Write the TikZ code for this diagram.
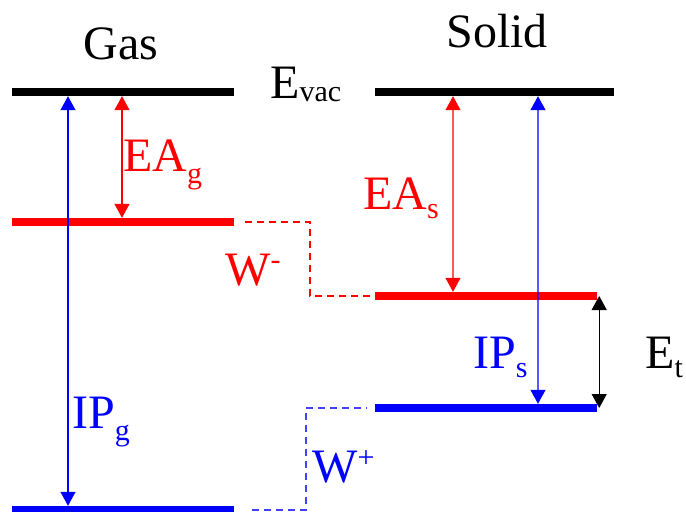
\documentclass[tikz,border=0pt]{standalone}
\usepackage{fontspec}
\setmainfont{Liberation Serif}
\usetikzlibrary{arrows.meta}
\definecolor{lvred}{HTML}{FF0000}
\definecolor{lvblue}{HTML}{0000FF}
\newcommand\lvsub[2][9bp]{\raisebox{-#1}{\fontsize{30bp}{30bp}\selectfont #2}}
\newcommand\lvsup[1]{\raisebox{15bp}{\fontsize{30bp}{30bp}\selectfont #1}}

\begin{document}
\begin{tikzpicture}[
  x=1bp, y=-1bp,
  level/.style={rectangle, inner sep=0pt, minimum height=8bp, minimum width=#1},
  gaparrow/.style={{Triangle[length=14bp,width=15bp]}-{Triangle[length=14bp,width=15bp]}, line width=1.2bp},
  wlink/.style={line width=1.5bp, dash pattern=on 7bp off 5bp},
  lbl/.style={inner sep=0pt, font=\fontsize{48bp}{50bp}\selectfont},
]
\useasboundingbox (0,0) rectangle (686,512);

% Levels (gas left, solid right)
\node[level=222bp, fill=black]  (gvac)  at (123,92)  {};
\node[level=222bp, fill=lvred]  (gred)  at (123,222) {};
\node[level=222bp, fill=lvblue] (gblue) at (123,510) {};
\node[level=239bp, fill=black]  (svac)  at (494.5,92) {};
\node[level=222bp, fill=lvred]  (sred)  at (486,296) {};
\node[level=222bp, fill=lvblue] (sblue) at (486,408) {};

% Energy arrows
\draw[gaparrow, lvblue] ([xshift=-55bp]gvac.south) -- ([xshift=-55bp]gblue.north);
\draw[gaparrow, lvred] ([xshift=-1bp]gvac.south) -- ([xshift=-1bp]gred.north);
\draw[gaparrow, lvred] ([xshift=-41.5bp]svac.south) -- ([xshift=-33bp]sred.north);
\draw[gaparrow, lvblue] ([xshift=43.5bp]svac.south) -- ([xshift=52bp]sblue.north);
\draw[gaparrow, black] ([xshift=2bp]sred.east) -- ([xshift=2bp]sblue.east);

% Polarisation shifts
\draw[wlink, lvred] ([xshift=11bp]gred.east) -- ++(65,0) |- ([xshift=-4bp]sred.west);
\draw[wlink, lvblue!75] ([xshift=18bp]gblue.east) -- ++(54,0) |- ([xshift=-8bp]sblue.west);

% Labels
\node[lbl, anchor=base] (gastitle) at (121,60) {Gas};
\node[lbl, anchor=base] (soltitle) at (497,48) {Solid};
\node[lbl, anchor=base west] (evac) at (270,99) {E\lvsub[3bp]{vac}};
\node[lbl, lvred, anchor=base west] (eag) at (123,172) {EA\lvsub[12bp]{g}};
\node[lbl, lvred, anchor=base west] (eas) at (363,210) {EA\lvsub{s}};
\node[lbl, lvblue, anchor=base west] (ipg) at (72,428) {IP\lvsub[12bp]{g}};
\node[lbl, lvblue, anchor=base west] (ips) at (473,368) {IP\lvsub{s}};
\node[lbl, anchor=base west] (et) at (645,368) {E\lvsub{t}};
\node[lbl, lvred, anchor=base west] (wminus) at (225,285) {W\lvsup{-}};
\node[lbl, lvblue, anchor=base west] (wplus) at (312,482) {W\lvsup{+}};

\end{tikzpicture}
\end{document}
